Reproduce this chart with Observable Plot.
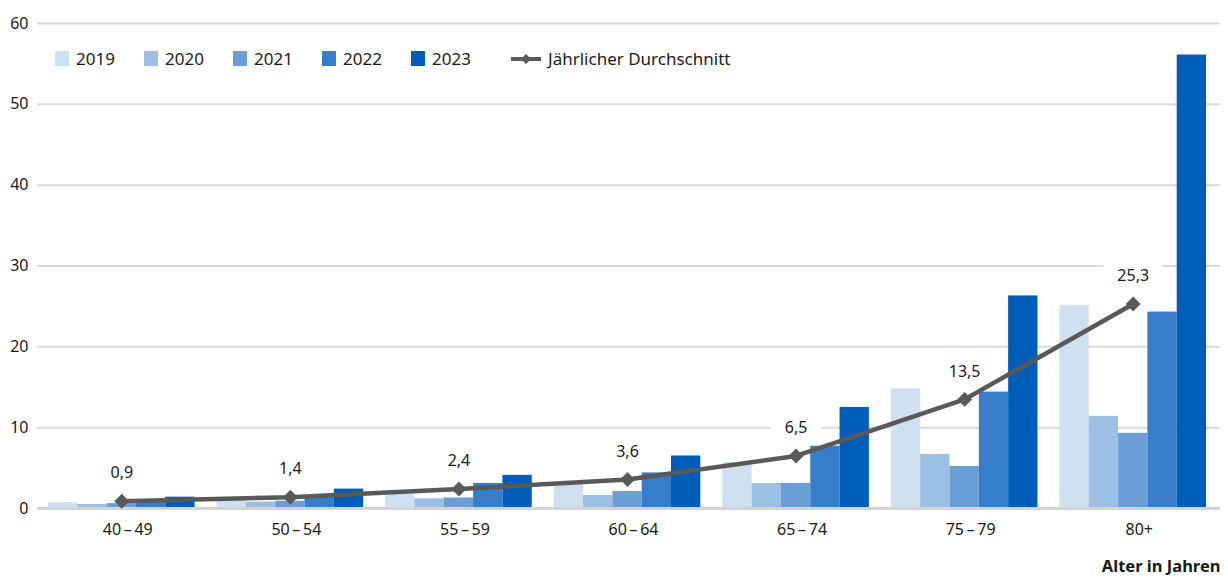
<!DOCTYPE html>
<html>
<head>
<meta charset="utf-8">
<script src="https://cdn.jsdelivr.net/npm/d3@7"></script>
<script src="https://cdn.jsdelivr.net/npm/@observablehq/plot@0.6"></script>
<style>
  body { margin: 0; background: #fff; }
  #wrap { position: relative; width: 1228px; height: 579px; font-family: "Noto Sans", sans-serif; color: #1a1a1a; }
  .legend { position: absolute; top: 47px; left: 55px; display: flex; align-items: center; font-size: 17px; }
  .item { display: flex; align-items: center; width: 89px; }
  .sw { width: 14px; height: 15px; margin-right: 7px; }
  .lineitem { display: flex; align-items: center; margin-left: 10px; }
  .lineitem svg { margin-right: 6px; }
</style>
</head>
<body>
<div id="wrap">
  <div id="chart"></div>
  <div class="legend" id="legend"></div>
</div>
<script>
const groups = ["40\u2009–\u200949", "50\u2009–\u200954", "55\u2009–\u200959", "60\u2009–\u200964", "65\u2009–\u200974", "75\u2009–\u200979", "80+"];
const years = ["2019", "2020", "2021", "2022", "2023"];
const v2019 = [0.7, 1.0, 1.8, 3.0, 5.7, 14.8, 25.1];
const v2020 = [0.5, 0.8, 1.2, 1.6, 3.1, 6.7, 11.4];
const v2021 = [0.6, 0.9, 1.3, 2.1, 3.1, 5.2, 9.3];
const v2022 = [1.1, 1.6, 3.1, 4.4, 7.7, 14.4, 24.3];
const v2023 = [1.4, 2.4, 4.1, 6.5, 12.5, 26.3, 56.1];
const average = [0.9, 1.4, 2.4, 3.6, 6.5, 13.5, 25.3];
const yTicks = [0, 10, 20, 30, 40, 50, 60];
const colors = ["#cfe0f1", "#9cc0e3", "#6a9fd5", "#367ec9", "#005eb8"];
const lineColor = "#595959";
const avgLabel = "Jährlicher Durchschnitt";
const axisTitle = "Alter in Jahren";

const series = [v2019, v2020, v2021, v2022, v2023];
const bars = [];
years.forEach((year, j) => groups.forEach((g, i) => bars.push({i, j, year, group: g, value: series[j][i]})));
const avgRows = groups.map((g, i) => ({i, group: g, avg: average[i]}));
const fmt = v => d3.format(".1f")(v).replace(".", ",");

const groupWidth = 0.87;
const barW = groupWidth / years.length;

const chart = Plot.plot({
  width: 1228,
  height: 579,
  marginLeft: 37,
  marginRight: 8,
  marginTop: 23,
  marginBottom: 71,
  x: {domain: [-0.5, groups.length - 0.5], insetRight: 3},
  y: {domain: [0, 60]},
  color: {domain: years, range: colors},
  style: {fontFamily: "Noto Sans, sans-serif", fontSize: "16px", color: "#1a1a1a", background: "white"},
  marks: [
    Plot.ruleY(yTicks.filter(d => d > 0), {stroke: "#d9d9d9", strokeWidth: 2}),
    Plot.text(avgRows, {x: "i", y: "avg", text: d => fmt(d.avg), dy: -28, fill: "white", stroke: "white", strokeWidth: 30, strokeLinejoin: "round"}),
    Plot.rectY(bars, {
      x1: d => d.i - groupWidth / 2 + d.j * barW,
      x2: d => d.i - groupWidth / 2 + (d.j + 1) * barW,
      y: "value",
      fill: "year"
    }),
    Plot.ruleY([0], {stroke: "#d3d3d3", strokeWidth: 3}),
    Plot.line(avgRows, {x: "i", y: "avg", stroke: lineColor, strokeWidth: 4.5}),
    Plot.dot(avgRows, {x: "i", y: "avg", symbol: "diamond2", r: 6.75, fill: lineColor, stroke: "none"}),
    Plot.text(avgRows, {x: "i", y: "avg", text: d => fmt(d.avg), dy: -28, fill: "#1a1a1a"}),
    Plot.axisY({ticks: yTicks, tickSize: 0, tickPadding: 9, label: null}),
    Plot.axisX({ticks: d3.range(groups.length), tickFormat: i => groups[i], tickSize: 0, tickPadding: 15, dx: 6, label: null}),
    Plot.text([axisTitle], {frameAnchor: "bottom-right", dy: 63, textAnchor: "end", fontWeight: "bold", fontSize: 16.5, fill: "#1a1a1a"})
  ]
});
document.getElementById("chart").appendChild(chart);

const legend = document.getElementById("legend");
years.forEach((y, j) => {
  const it = document.createElement("div");
  it.className = "item";
  it.innerHTML = `<span class="sw" style="background:${colors[j]}"></span><span>${y}</span>`;
  legend.appendChild(it);
});
const li = document.createElement("div");
li.className = "lineitem";
li.innerHTML = `<svg width="32" height="14"><line x1="1" x2="31" y1="7" y2="7" stroke="${lineColor}" stroke-width="4"/><path d="M16,2L21,7L16,12L11,7Z" fill="${lineColor}"/></svg><span>${avgLabel}</span>`;
legend.appendChild(li);
</script>
</body>
</html>
